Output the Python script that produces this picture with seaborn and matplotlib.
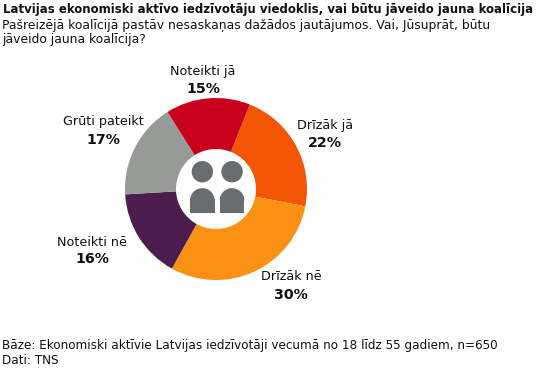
import matplotlib
matplotlib.use("Agg")
import matplotlib.pyplot as plt
import seaborn as sns
from matplotlib.patches import Circle, Rectangle, Wedge

# chart data, clockwise from the orange slice
categories = ["Drīzāk jā", "Drīzāk nē", "Noteikti nē", "Grūti pateikt", "Noteikti jā"]
values = [22, 30, 16, 17, 15]
colors = ["#f25506", "#fa9014", "#4e1d4f", "#989a97", "#c8001e"]

title = "Latvijas ekonomiski aktīvo iedzīvotāju viedoklis, vai būtu jāveido jauna koalīcija"
question = ["Pašreizējā koalīcijā pastāv nesaskaņas dažādos jautājumos. Vai, Jūsuprāt, būtu",
            "jāveido jauna koalīcija?"]
footer = ["Bāze: Ekonomiski aktīvie Latvijas iedzīvotāji vecumā no 18 līdz 55 gadiem, n=650",
          "Dati: TNS"]

W, H = 539, 371
CX, CY = 216, 189
R_OUT, R_IN = 91, 40
ICON = "#6a6d70"
TXT = "#111111"

# label centres in image pixels (name y, percent y)
label_pos = {
    "Drīzāk jā": (325, 125, 143),
    "Drīzāk nē": (291, 277, 295),
    "Noteikti nē": (92, 242, 259),
    "Grūti pateikt": (103, 121, 140),
    "Noteikti jā": (203, 72, 89),
}

sns.set_theme(style="white")
plt.rcParams["font.family"] = ["DejaVu Sans"]

fig = plt.figure(figsize=(W / 100, H / 100), dpi=100, facecolor="white")
ax = fig.add_axes([0, 0, 1, 1])


def py(y):
    return H - y


# donut, first slice starts 22 deg right of north
ax.pie(values, colors=colors, startangle=90 - 21.8, counterclock=False,
       center=(CX, py(CY)), radius=R_OUT,
       wedgeprops=dict(width=R_OUT - R_IN, linewidth=0), frame=True)
ax.set_xlim(0, W)
ax.set_ylim(0, H)
ax.set_aspect("equal")
ax.axis("off")

# people icon in the hole
for x0 in (190, 219.7):
    r = 12.35
    ax.add_patch(Circle((x0 + r, py(171.7)), 10.7, color=ICON, lw=0))
    ax.add_patch(Wedge((x0 + r, py(200.5)), r, 0, 180, color=ICON, lw=0))
    ax.add_patch(Rectangle((x0, py(213.3)), 2 * r, 14.3, color=ICON, lw=0))

# slice labels
for cat, val in zip(categories, values):
    x, y1, y2 = label_pos[cat]
    ax.text(x, py(y1), cat, ha="center", va="center", fontsize=9.2, color=TXT)
    ax.text(x, py(y2), f"{val}%", ha="center", va="center", fontsize=10.2,
            fontweight="bold", color=TXT)

# header and footer
ax.text(3, py(10), title, ha="left", va="center", fontsize=8.5, fontweight="bold", color=TXT)
ax.text(2, py(25), question[0], ha="left", va="center", fontsize=8.9, color=TXT)
ax.text(2, py(39), question[1], ha="left", va="center", fontsize=8.9, color=TXT)
ax.text(2, py(345), footer[0], ha="left", va="center", fontsize=8.65, color=TXT)
ax.text(2, py(360), footer[1], ha="left", va="center", fontsize=8.65, color=TXT)

fig.savefig("out.png", dpi=100, facecolor="white")
